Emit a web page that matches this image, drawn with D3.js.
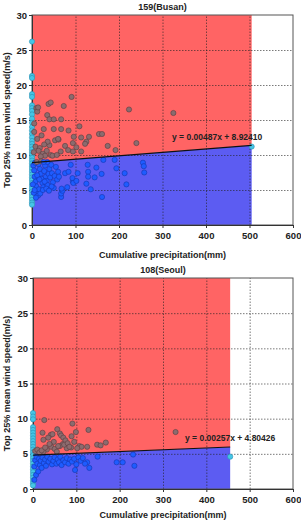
<!DOCTYPE html>
<html>
<head>
<meta charset="utf-8">
<script src="https://cdn.jsdelivr.net/npm/d3@7"></script>
<style>
  body { margin: 0; background: #fff; }
  text { font-family: "Liberation Sans", Arial, sans-serif; fill: #222; }
</style>
</head>
<body>
<svg id="chart"></svg>
<script>
// Chart values
const xTicks = [0, 100, 200, 300, 400, 500, 600];
const yTicks = [0, 5, 10, 15, 20, 25, 30];
const stations = ['159(Busan)', '108(Seoul)'];
const slopes = [0.00487, 0.00257];
const intercepts = [8.92410, 4.80426];
const fitEnds = [505, 455];
const eqLabels = ['y = 0.00487x + 8.92410', 'y = 0.00257x + 4.80426'];

// Busan points [precipitation, wind speed]
const busanZero = [26.2, 21.3, 21.0, 18.7, 18.3, 17.1, 16.7, 16.3, 15.8, 15.2, 14.6, 14.0, 13.5,
  13.0, 12.5, 12.0, 11.6, 11.2, 10.8, 10.4, 10.0, 9.6, 9.2, 8.8, 8.4, 8.0, 7.6, 7.2, 6.8, 6.4,
  6.0, 5.6, 5.2, 4.8, 4.4, 4.0, 3.6, 3.2, 2.9];
const busanPts = [
  [10, 16.7], [12, 16.2], [14, 16.8], [38, 17.3], [43, 17.5], [73, 17.0], [91, 18.3],
  [35, 15.7], [40, 15.1], [50, 15.1], [67, 15.1], [109, 14.1], [223, 16.5], [325, 16.0],
  [5, 14.5], [5, 13.3], [27, 13.7], [50, 13.7], [67, 13.7], [84, 13.5], [96, 12.6],
  [53, 12.1], [61, 12.2], [94, 11.7], [40, 11.4], [76, 11.3], [102, 11.1], [94, 10.5],
  [25, 10.2], [43, 10.0], [66, 10.5], [83, 10.7], [154, 13.0], [161, 13.0], [131, 12.6],
  [125, 11.9], [240, 11.7], [174, 11.3], [192, 10.7], [113, 12.5], [113, 10.5], [122, 11.6],
  [8, 11.2], [12, 12.3], [18, 11.0], [22, 12.8], [30, 9.9], [34, 10.6], [47, 9.9], [57, 10.0],
  [15, 10.6], [4, 10.4], [20, 9.8], [36, 11.9], [28, 11.5], [60, 12.3],
  [3, 8.5], [5, 7.8], [6, 6.9], [8, 6.2], [10, 5.5], [12, 4.8], [14, 4.2], [4, 4.6], [9, 3.9],
  [15, 8.7], [18, 8.0], [20, 7.3], [22, 6.6], [24, 6.0], [26, 5.4], [28, 7.7], [30, 8.5],
  [32, 6.9], [34, 6.3], [36, 5.7], [38, 7.3], [40, 8.0], [42, 6.8], [44, 8.6], [46, 7.4],
  [48, 6.1], [50, 5.3], [52, 7.0], [55, 8.3], [58, 6.5], [16, 5.1], [19, 4.5], [25, 5.0],
  [33, 5.2], [12, 7.1], [7, 8.9], [11, 9.0], [21, 9.1], [35, 9.0], [45, 5.5], [27, 9.0],
  [60, 7.6], [62, 6.9], [2, 5.8], [6, 5.0], [17, 6.5], [29, 6.2], [39, 4.9],
  [89, 8.6], [76, 7.4], [67, 4.0], [67, 4.5], [70, 4.9], [68, 5.2], [81, 5.4], [94, 6.2],
  [84, 7.6], [93, 6.7], [95, 6.0], [102, 6.3], [105, 7.4],
  [128, 8.6], [164, 9.3], [190, 9.3], [148, 8.2], [194, 8.1], [255, 8.9], [257, 8.4],
  [258, 7.5], [129, 7.6], [160, 7.3], [213, 7.4], [144, 6.8], [129, 6.9], [217, 5.8],
  [125, 5.9], [135, 5.1], [161, 4.0], [505, 11.2]
];

// Seoul points [precipitation, wind speed]
const seoulZero = [10.8, 10.3, 9.9, 8.8, 8.4, 8.0, 7.6, 7.2, 6.8, 6.4, 6.0, 5.6, 5.2, 4.8, 4.4,
  4.0, 3.6, 3.2, 2.8, 2.4, 2.0, 1.6, 1.2, 0.8, 0.5];
const seoulPts = [
  [26, 9.8], [91, 9.3], [22, 8.0], [56, 8.5], [128, 8.4], [99, 8.1], [329, 8.1],
  [41, 7.7], [35, 7.3], [24, 7.0], [89, 7.5], [48, 6.7], [69, 6.4], [95, 6.7], [107, 6.1],
  [112, 6.0], [168, 6.6], [148, 6.3], [156, 6.2], [62, 6.1], [78, 5.8], [32, 5.6], [24, 5.3],
  [62, 7.9], [65, 7.6], [70, 7.3], [45, 7.8], [75, 6.9], [125, 6.0], [5, 5.4], [10, 5.6],
  [15, 5.2], [20, 5.5], [28, 5.9], [42, 6.0], [50, 5.7], [58, 6.1], [72, 6.3], [80, 6.5],
  [88, 5.9], [102, 5.8], [38, 6.4], [55, 5.3], [84, 6.0],
  [193, 3.8], [207, 3.8], [231, 4.9], [234, 3.3], [149, 4.6], [130, 3.0], [97, 2.7],
  [125, 3.8], [7, 2.0], [3, 3.2], [5, 4.1], [8, 4.6], [10, 3.6], [12, 2.5], [14, 4.3],
  [16, 3.4], [18, 4.0], [20, 3.0], [22, 4.5], [25, 3.7], [28, 4.2], [30, 3.3], [33, 4.6],
  [36, 3.9], [40, 4.3], [44, 3.5], [47, 4.0], [50, 4.5], [54, 3.6], [57, 4.2], [60, 3.8],
  [63, 4.6], [66, 3.4], [70, 4.1], [74, 3.8], [78, 4.4], [82, 3.6], [86, 4.2], [90, 3.9],
  [95, 4.3], [100, 3.5], [105, 4.5], [110, 4.0], [115, 4.4], [120, 3.6], [3, 1.3],
  [455, 4.6]
];

const W = 301, H = 521;
const svg = d3.select('#chart').attr('width', W).attr('height', H);
svg.append('rect').attr('width', W).attr('height', H).attr('fill', '#fff');

const panels = [
  {left: 32, right: 293, top: 15, bottom: 225, xlab: 258, zero: busanZero, pts: busanPts},
  {left: 33, right: 293, top: 278, bottom: 489, xlab: 518, zero: seoulZero, pts: seoulPts}
];

panels.forEach((p, i) => {
  const x = d3.scaleLinear().domain([0, 600]).range([p.left, p.right]);
  const y = d3.scaleLinear().domain([0, 30]).range([p.bottom, p.top]);
  const fit = v => slopes[i] * v + intercepts[i];
  const xe = fitEnds[i];
  const g = svg.append('g');

  // red area above the fit, blue below
  g.append('path')
    .attr('d', d3.line()([[x(0), y(fit(0))], [x(xe), y(fit(xe))], [x(xe), y(30)], [x(0), y(30)]]))
    .attr('fill', '#ff6464');
  g.append('path')
    .attr('d', d3.line()([[x(0), y(0)], [x(xe), y(0)], [x(xe), y(fit(xe))], [x(0), y(fit(0))]]))
    .attr('fill', '#5c5cf2');

  // dotted grid
  g.append('g')
    .attr('transform', `translate(0, ${p.bottom})`)
    .call(d3.axisBottom(x).tickValues(xTicks.slice(1, -1)).tickSize(-(p.bottom - p.top)).tickFormat(''))
    .call(a => a.select('.domain').remove())
    .selectAll('line').attr('stroke', '#222').attr('stroke-opacity', 0.6).attr('stroke-dasharray', '1.5,1.5');
  g.append('g')
    .attr('transform', `translate(${p.left}, 0)`)
    .call(d3.axisLeft(y).tickValues(yTicks.slice(1, -1)).tickSize(-(p.right - p.left)).tickFormat(''))
    .call(a => a.select('.domain').remove())
    .selectAll('line').attr('stroke', '#222').attr('stroke-opacity', 0.6).attr('stroke-dasharray', '1.5,1.5');

  // frame
  g.append('rect')
    .attr('x', p.left).attr('y', p.top)
    .attr('width', p.right - p.left).attr('height', p.bottom - p.top)
    .attr('fill', 'none').attr('stroke', '#555').attr('stroke-width', 1);

  // axes
  const ax = g.append('g')
    .attr('transform', `translate(0, ${p.bottom})`)
    .call(d3.axisBottom(x).tickValues(xTicks).tickSize(3).tickPadding(4));
  const ay = g.append('g')
    .attr('transform', `translate(${p.left}, 0)`)
    .call(d3.axisLeft(y).tickValues(yTicks).tickSize(3).tickPadding(2));
  [ax, ay].forEach(a => {
    a.select('.domain').attr('stroke', '#333');
    a.selectAll('line').attr('stroke', '#333');
    a.selectAll('text').style('font-size', '9.5px').style('font-weight', 'bold').attr('fill', '#222');
  });

  // points
  const all = p.zero.map(v => [0, v]).concat(p.pts);
  const colour = d => {
    if (d[0] === 0 || d[0] >= xe) return ['#45c6e6', '#2a8fb2'];
    return d[1] > fit(d[0]) ? ['#8c6b6e', '#5a3c40'] : ['#1e5cff', '#1436b0'];
  };
  g.append('g').selectAll('circle').data(all).join('circle')
    .attr('cx', d => x(d[0]))
    .attr('cy', d => y(d[1]))
    .attr('r', 2.6)
    .attr('fill', d => colour(d)[0])
    .attr('stroke', d => colour(d)[1])
    .attr('stroke-width', 0.6);

  // regression line
  g.append('line')
    .attr('x1', x(0)).attr('y1', y(fit(0)))
    .attr('x2', x(xe)).attr('y2', y(fit(xe)))
    .attr('stroke', '#111').attr('stroke-width', 1.2);

  g.append('text')
    .attr('x', i === 0 ? 172 : 185)
    .attr('y', i === 0 ? 140 : 441)
    .style('font-size', '8.5px').style('font-weight', 'bold')
    .text(eqLabels[i]);

  // titles
  g.append('text')
    .attr('x', (p.left + p.right) / 2).attr('y', p.top - 5)
    .attr('text-anchor', 'middle')
    .style('font-size', '9px').style('font-weight', 'bold')
    .text(stations[i]);
  g.append('text')
    .attr('x', (p.left + p.right) / 2).attr('y', p.xlab)
    .attr('text-anchor', 'middle')
    .style('font-size', '9px').style('font-weight', 'bold')
    .text('Cumulative precipitation(mm)');
  g.append('text')
    .attr('transform', `translate(10, ${(p.top + p.bottom) / 2}) rotate(-90)`)
    .attr('text-anchor', 'middle')
    .style('font-size', '9px').style('font-weight', 'bold')
    .text('Top 25% mean wind speed(m/s)');
});
</script>
</body>
</html>
